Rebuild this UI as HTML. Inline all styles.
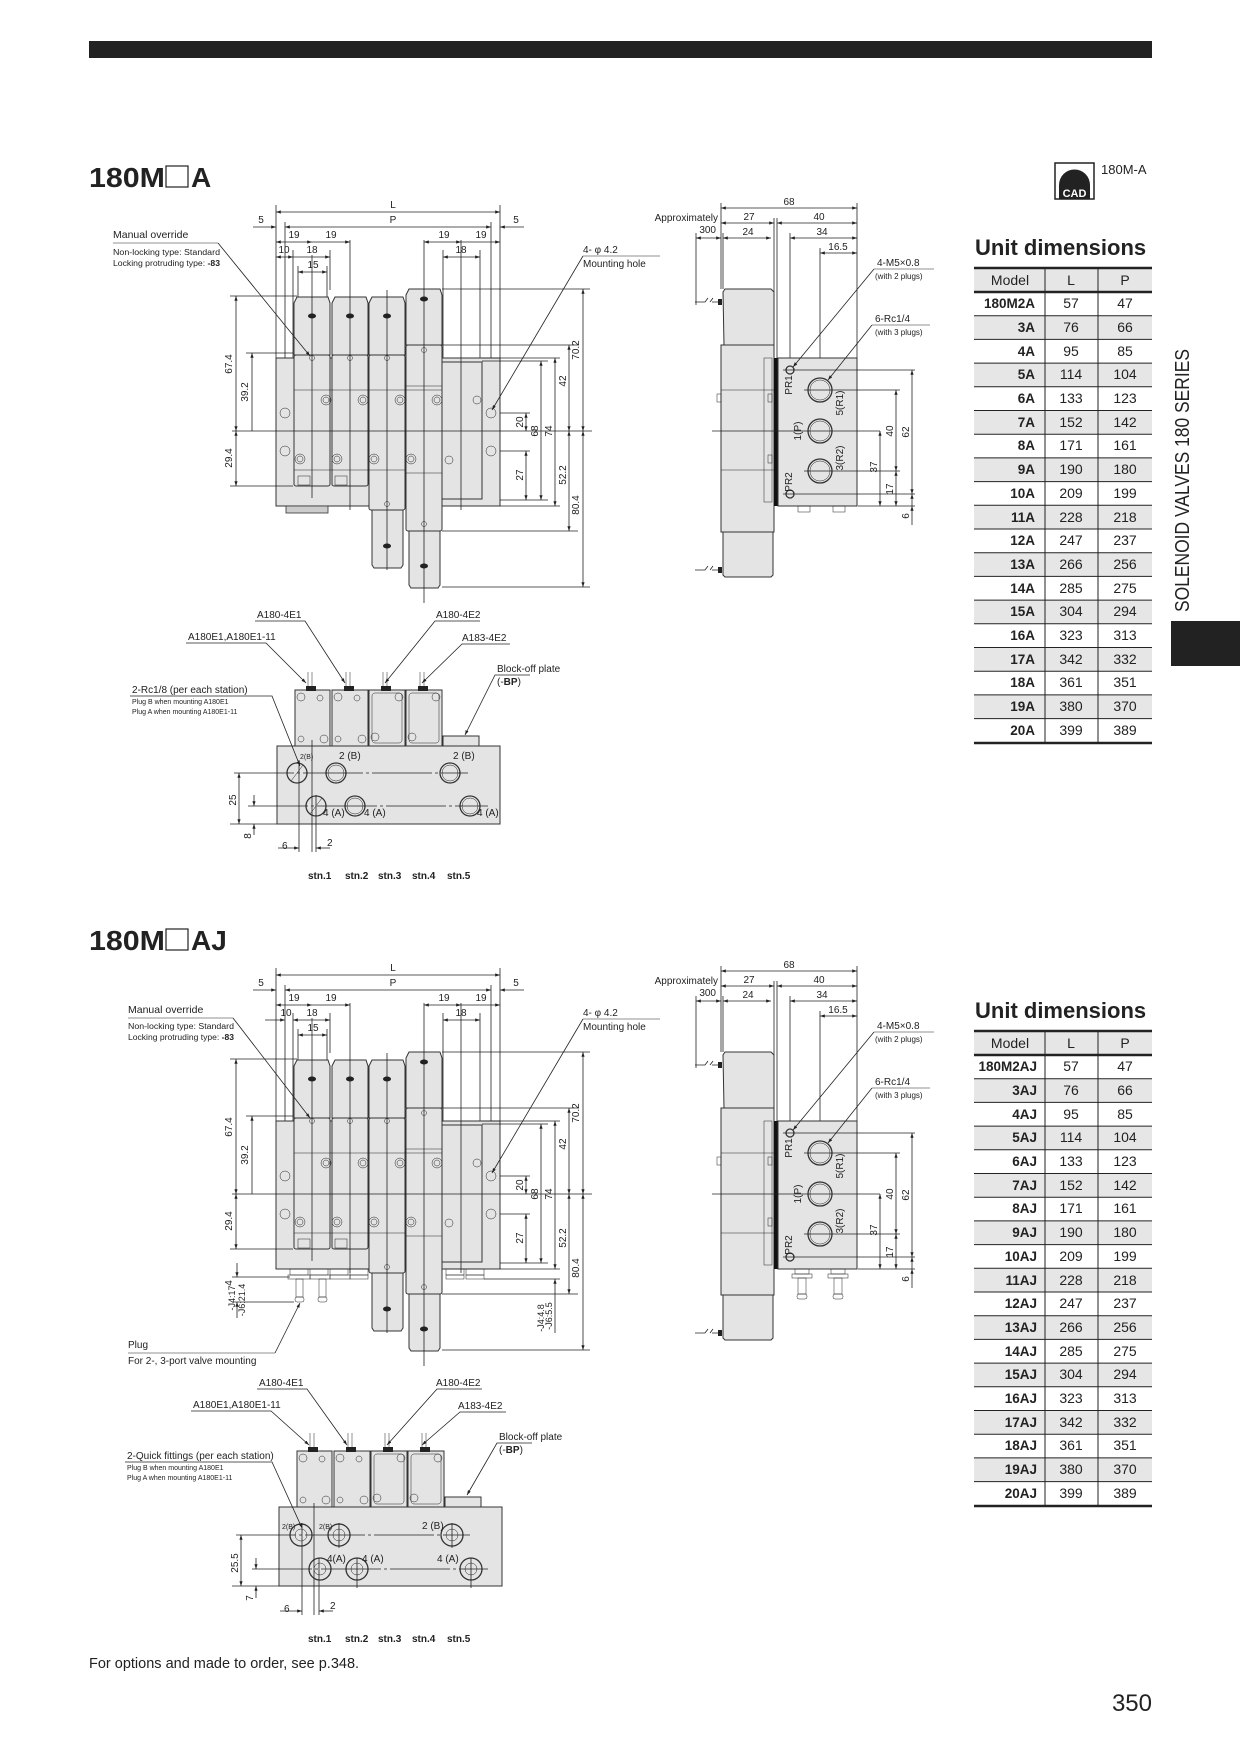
<!DOCTYPE html>
<html><head><meta charset="utf-8"><style>
html,body{margin:0;padding:0;background:#fff}
svg{display:block}
text{font-family:"Liberation Sans",sans-serif;fill:#222}
.d{font-size:10px}
.s{font-size:8px}
.b{font-weight:bold}
.ln{stroke:#222;stroke-width:0.8;fill:none}
.th{stroke:#222;stroke-width:0.5;fill:none}
.bd{fill:#e4e4e4;stroke:#333;stroke-width:1}
.pt{fill:none;stroke:#333;stroke-width:1.3}
</style></head><body>
<svg width="1240" height="1752" viewBox="0 0 1240 1752" xmlns="http://www.w3.org/2000/svg">
<defs>
<marker id="a" viewBox="0 0 6 6" refX="6" refY="3" markerWidth="6" markerHeight="6" orient="auto-start-reverse"><path d="M0,1 L6,3 L0,5z" fill="#222"/></marker>
</defs>
<rect x="89" y="41" width="1063" height="17" fill="#222"/>

<rect x="1055" y="163" width="39" height="36" fill="#fff" stroke="#222" stroke-width="1.5"/>
<path d="M1059,199 L1059,185 A15,15 0 0 1 1090,185 L1090,199z" fill="#222"/>
<rect x="1059" y="186" width="31" height="13" fill="#222"/>
<text x="1074.5" y="197" font-size="11" font-weight="bold" text-anchor="middle" style="fill:#fff">CAD</text>
<text x="1101" y="174" font-size="13">180M-A</text>

<text transform="translate(1189,612) rotate(-90)" font-size="20" textLength="263" lengthAdjust="spacingAndGlyphs" style="font-family:'Liberation Sans Narrow','Liberation Sans',sans-serif">SOLENOID VALVES 180 SERIES</text>
<rect x="1171" y="621" width="69" height="45" fill="#222"/>

<!-- ========== SECTION 1 ========== -->
<g id="s1">
<text x="89" y="187" font-size="28" class="b" textLength="76" lengthAdjust="spacingAndGlyphs">180M</text>
<rect x="166" y="166" width="22" height="21" fill="none" stroke="#222" stroke-width="1.2"/>
<text x="191" y="187" font-size="28" class="b">A</text>

<g class="ln">
<line x1="276" y1="205" x2="276" y2="358"/><line x1="500" y1="205" x2="500" y2="358"/>
<line x1="285" y1="222" x2="285" y2="440"/><line x1="491" y1="222" x2="491" y2="460"/>
<line x1="276" y1="212" x2="500" y2="212" marker-start="url(#a)" marker-end="url(#a)"/>
<line x1="285" y1="227" x2="491" y2="227" marker-start="url(#a)" marker-end="url(#a)"/>
<line x1="253" y1="227" x2="276" y2="227" marker-end="url(#a)"/><line x1="524" y1="227" x2="500" y2="227" marker-end="url(#a)"/>
<line x1="276" y1="242" x2="312" y2="242" marker-start="url(#a)" marker-end="url(#a)"/>
<line x1="312" y1="242" x2="350" y2="242" marker-end="url(#a)"/>
<line x1="424" y1="242" x2="461" y2="242" marker-start="url(#a)" marker-end="url(#a)"/>
<line x1="461" y1="242" x2="500" y2="242" marker-end="url(#a)"/>
<line x1="276" y1="257" x2="293" y2="257" marker-start="url(#a)" marker-end="url(#a)"/>
<line x1="293" y1="257" x2="330" y2="257" marker-end="url(#a)"/>
<line x1="443" y1="257" x2="480" y2="257" marker-start="url(#a)" marker-end="url(#a)"/>
<line x1="298" y1="272" x2="327" y2="272" marker-start="url(#a)" marker-end="url(#a)"/>
<line x1="293" y1="250" x2="293" y2="358"/><line x1="330" y1="250" x2="330" y2="290"/>
<line x1="298" y1="266" x2="298" y2="300"/><line x1="327" y1="266" x2="327" y2="300"/>
<line x1="443" y1="250" x2="443" y2="358"/><line x1="480" y1="250" x2="480" y2="358"/>
</g>
<g class="d" text-anchor="middle">
<text x="393" y="208">L</text><text x="393" y="223">P</text>
<text x="261" y="223">5</text><text x="516" y="223">5</text>
<text x="294" y="238">19</text><text x="331" y="238">19</text>
<text x="444" y="238">19</text><text x="481" y="238">19</text>
<text x="284" y="253">10</text><text x="312" y="253">18</text><text x="461" y="253">18</text>
<text x="313" y="268">15</text>
</g>
<rect class="bd" x="276" y="358" width="224" height="148"/>
<rect x="286" y="506" width="42" height="7" fill="#ccc" stroke="#333" stroke-width="0.8"/>
<rect class="bd" x="442" y="362" width="40" height="137"/>
<path class="bd" d="M297,297 h31 l2,6 v52 h-36 v-52z"/>
<rect class="bd" x="294" y="355" width="36" height="131" rx="2"/>
<path class="bd" d="M335,297 h31 l2,6 v52 h-36 v-52z"/>
<rect class="bd" x="332" y="355" width="36" height="131" rx="2"/>
<path class="bd" d="M372,297 h31 l2,6 v52 h-36 v-52z"/>
<rect class="bd" x="369" y="355" width="36" height="155" rx="2"/>
<path class="bd" d="M372,510 h31 v55 l-2,3 h-27 l-2,-3z"/>
<path class="bd" d="M409,289 h31 l2,6 v50 h-36 v-50z"/>
<rect class="bd" x="406" y="345" width="36" height="186" rx="2"/>
<path class="bd" d="M409,531 h31 v54 l-2,3 h-27 l-2,-3z"/>
<g class="th"><line x1="294" y1="390" x2="442" y2="390"/><line x1="294" y1="470" x2="405" y2="470"/><line x1="406" y1="386" x2="442" y2="386"/><line x1="406" y1="473" x2="442" y2="473"/>
<rect x="298" y="476" width="12" height="9"/><rect x="335" y="476" width="12" height="9"/></g>
<g class="ln">
<line x1="312" y1="255" x2="312" y2="498"/><line x1="350" y1="240" x2="350" y2="510"/>
<line x1="387" y1="290" x2="387" y2="570"/><line x1="424" y1="240" x2="424" y2="603"/><line x1="461" y1="240" x2="461" y2="510"/>
<line x1="232" y1="431" x2="592" y2="431"/>
</g>
<g fill="#222"><ellipse cx="312" cy="316" rx="4" ry="2.5"/><ellipse cx="350" cy="316" rx="4" ry="2.5"/><ellipse cx="387" cy="316" rx="4" ry="2.5"/><ellipse cx="424" cy="299" rx="4" ry="2.5"/><ellipse cx="387" cy="546" rx="4" ry="2.5"/><ellipse cx="424" cy="566" rx="4" ry="2.5"/></g>
<g class="th" fill="#fff">
<circle cx="285" cy="413" r="5"/><circle cx="285" cy="451" r="5"/><circle cx="491" cy="413" r="5"/><circle cx="491" cy="451" r="5"/>
<circle cx="326" cy="400" r="5"/><circle cx="326" cy="400" r="3"/><circle cx="363" cy="400" r="5"/><circle cx="363" cy="400" r="3"/>
<circle cx="400" cy="400" r="5"/><circle cx="400" cy="400" r="3"/><circle cx="437" cy="400" r="5"/><circle cx="437" cy="400" r="3"/>
<circle cx="477" cy="400" r="4"/>
<circle cx="300" cy="459" r="5"/><circle cx="300" cy="459" r="3"/><circle cx="337" cy="459" r="5"/><circle cx="337" cy="459" r="3"/>
<circle cx="374" cy="459" r="5"/><circle cx="374" cy="459" r="3"/><circle cx="411" cy="459" r="5"/><circle cx="411" cy="459" r="3"/>
<circle cx="449" cy="460" r="4"/>
<circle cx="312" cy="358" r="2.5"/><circle cx="350" cy="358" r="2.5"/><circle cx="387" cy="358" r="2.5"/><circle cx="424" cy="350" r="2.5"/><circle cx="387" cy="504" r="2.5"/><circle cx="424" cy="524" r="2.5"/>
</g>
<g class="ln">
<line x1="230" y1="296" x2="297" y2="296"/><line x1="246" y1="353" x2="293" y2="353"/><line x1="230" y1="486" x2="293" y2="486"/>
<line x1="236" y1="296" x2="236" y2="431" marker-start="url(#a)" marker-end="url(#a)"/>
<line x1="252" y1="353" x2="252" y2="431" marker-start="url(#a)"/>
<line x1="236" y1="431" x2="236" y2="486" marker-start="url(#a)" marker-end="url(#a)"/>
<line x1="442" y1="289" x2="590" y2="289"/><line x1="442" y1="345" x2="578" y2="345"/><line x1="482" y1="358" x2="560" y2="358"/>
<line x1="482" y1="361" x2="548" y2="361"/><line x1="500" y1="413" x2="530" y2="413"/><line x1="500" y1="451" x2="530" y2="451"/>
<line x1="500" y1="500" x2="548" y2="500"/><line x1="500" y1="506" x2="560" y2="506"/><line x1="442" y1="531" x2="578" y2="531"/><line x1="442" y1="587" x2="590" y2="587"/>
<line x1="583" y1="289" x2="583" y2="431" marker-start="url(#a)" marker-end="url(#a)"/>
<line x1="583" y1="431" x2="583" y2="587" marker-start="url(#a)" marker-end="url(#a)"/>
<line x1="569" y1="345" x2="569" y2="431" marker-start="url(#a)" marker-end="url(#a)"/>
<line x1="569" y1="431" x2="569" y2="531" marker-start="url(#a)" marker-end="url(#a)"/>
<line x1="555" y1="358" x2="555" y2="506" marker-start="url(#a)" marker-end="url(#a)"/>
<line x1="541" y1="361" x2="541" y2="500" marker-start="url(#a)" marker-end="url(#a)"/>
<line x1="526" y1="413" x2="526" y2="431" marker-start="url(#a)" marker-end="url(#a)"/>
<line x1="526" y1="451" x2="526" y2="500" marker-start="url(#a)" marker-end="url(#a)"/>
</g>
<g class="d" text-anchor="middle">
<text transform="translate(232,364) rotate(-90)">67.4</text>
<text transform="translate(248,392) rotate(-90)">39.2</text>
<text transform="translate(232,458) rotate(-90)">29.4</text>
<text transform="translate(579,350) rotate(-90)">70.2</text>
<text transform="translate(579,505) rotate(-90)">80.4</text>
<text transform="translate(566,381) rotate(-90)">42</text>
<text transform="translate(566,475) rotate(-90)">52.2</text>
<text transform="translate(552,431) rotate(-90)">74</text>
<text transform="translate(538,431) rotate(-90)">68</text>
<text transform="translate(523,422) rotate(-90)">20</text>
<text transform="translate(523,475) rotate(-90)">27</text>
</g>
<text x="113" y="238" font-size="10.5">Manual override</text>
<line class="th" x1="113" y1="243" x2="218" y2="243"/>
<line class="ln" x1="218" y1="243" x2="310" y2="356" marker-end="url(#a)"/>
<text x="113" y="255" class="s" textLength="107" lengthAdjust="spacingAndGlyphs">Non-locking type: Standard</text>
<text x="113" y="266" class="s" textLength="107" lengthAdjust="spacingAndGlyphs">Locking protruding type: <tspan class="b">-83</tspan></text>
<text x="583" y="253" class="d">4- φ 4.2</text>
<line class="th" x1="583" y1="256" x2="660" y2="256"/>
<text x="583" y="267" class="d">Mounting hole</text>
<line class="ln" x1="583" y1="256" x2="492" y2="410" marker-end="url(#a)"/>

<g class="ln">
<line x1="721" y1="203" x2="721" y2="289"/><line x1="857" y1="203" x2="857" y2="358"/>
<line x1="774" y1="218" x2="774" y2="358"/><line x1="777" y1="218" x2="777" y2="358"/>
<line x1="790" y1="233" x2="790" y2="370"/><line x1="820" y1="248" x2="820" y2="490"/>
<line x1="696" y1="233" x2="696" y2="305"/><line x1="723" y1="233" x2="723" y2="289"/>
<line x1="721" y1="208" x2="857" y2="208" marker-start="url(#a)" marker-end="url(#a)"/>
<line x1="721" y1="223" x2="774" y2="223" marker-start="url(#a)" marker-end="url(#a)"/>
<line x1="777" y1="223" x2="857" y2="223" marker-start="url(#a)" marker-end="url(#a)"/>
<line x1="696" y1="238" x2="721" y2="238" marker-start="url(#a)" marker-end="url(#a)"/>
<line x1="723" y1="238" x2="771" y2="238" marker-start="url(#a)" marker-end="url(#a)"/>
<line x1="790" y1="238" x2="857" y2="238" marker-start="url(#a)" marker-end="url(#a)"/>
<line x1="820" y1="253" x2="857" y2="253" marker-start="url(#a)" marker-end="url(#a)"/>
</g>
<g class="d" text-anchor="middle">
<text x="789" y="205">68</text><text x="749" y="220">27</text><text x="819" y="220">40</text>
<text x="748" y="235">24</text><text x="822" y="235">34</text><text x="838" y="250">16.5</text>
</g>
<text x="718" y="221" class="d" text-anchor="end">Approximately</text>
<text x="716" y="233" class="d" text-anchor="end">300</text>
<path class="bd" d="M723,292 l2,-3 h46 l3,3 v53 h-50z"/>
<rect class="bd" x="721" y="345" width="53" height="187"/>
<path class="bd" d="M723,532 h50 v43 l-2,2 h-46 l-2,-2z"/>
<g class="th"><line x1="721" y1="390" x2="774" y2="390"/><line x1="721" y1="470" x2="774" y2="470"/><rect x="717" y="394" width="4" height="8"/><rect x="768" y="394" width="4" height="8"/><rect x="768" y="455" width="4" height="8"/><rect x="764" y="358" width="8" height="144"/></g>
<path class="ln" d="M695,302 h10 l3,-4 M710,302 l3,-4 M712,302 h8"/><rect x="718" y="299" width="4" height="6" fill="#222"/>
<path class="ln" d="M695,570 h10 l3,-4 M710,570 l3,-4 M712,570 h8"/><rect x="718" y="567" width="4" height="6" fill="#222"/>
<rect x="774" y="358" width="4" height="148" fill="#111"/>
<rect class="bd" x="778" y="358" width="79" height="148"/>
<g class="th"><rect x="798" y="506" width="12" height="6"/><rect x="833" y="506" width="12" height="6"/></g>
<circle class="pt" cx="820" cy="390" r="12"/><circle class="pt" cx="820" cy="431" r="12"/><circle class="pt" cx="820" cy="471" r="12"/>
<circle class="th" cx="820" cy="390" r="10"/><circle class="th" cx="820" cy="431" r="10"/><circle class="th" cx="820" cy="471" r="10"/>
<circle class="pt" cx="790" cy="370" r="4"/><circle class="pt" cx="790" cy="494" r="4"/>
<g class="ln">
<line x1="712" y1="431" x2="880" y2="431"/><line x1="783" y1="370" x2="915" y2="370"/><line x1="804" y1="390" x2="900" y2="390"/>
<line x1="804" y1="471" x2="900" y2="471"/><line x1="783" y1="494" x2="915" y2="494"/><line x1="858" y1="506" x2="915" y2="506"/>
<line x1="880" y1="431" x2="880" y2="506" marker-start="url(#a)" marker-end="url(#a)"/>
<line x1="896" y1="390" x2="896" y2="471" marker-start="url(#a)" marker-end="url(#a)"/>
<line x1="896" y1="471" x2="896" y2="506" marker-start="url(#a)" marker-end="url(#a)"/>
<line x1="912" y1="370" x2="912" y2="494" marker-start="url(#a)" marker-end="url(#a)"/>
<line x1="912" y1="494" x2="912" y2="506" marker-start="url(#a)"/><line x1="912" y1="506" x2="912" y2="525" marker-start="url(#a)"/>
</g>
<g class="d" text-anchor="middle">
<text transform="translate(877,467) rotate(-90)">37</text>
<text transform="translate(893,431) rotate(-90)">40</text>
<text transform="translate(893,489) rotate(-90)">17</text>
<text transform="translate(909,432) rotate(-90)">62</text>
<text transform="translate(909,516) rotate(-90)">6</text>
<text transform="translate(792,385) rotate(-90)">PR1</text>
<text transform="translate(792,482) rotate(-90)">PR2</text>
<text transform="translate(801,431) rotate(-90)">1(P)</text>
<text transform="translate(843,403) rotate(-90)">5(R1)</text>
<text transform="translate(843,458) rotate(-90)">3(R2)</text>
</g>
<text x="877" y="266" class="d">4-M5×0.8</text>
<line class="th" x1="874" y1="269" x2="934" y2="269"/>
<text x="875" y="279" class="s">(with 2 plugs)</text>
<line class="ln" x1="874" y1="269" x2="793" y2="367" marker-end="url(#a)"/>
<text x="875" y="322" class="d">6-Rc1/4</text>
<line class="th" x1="872" y1="325" x2="930" y2="325"/>
<text x="875" y="335" class="s">(with 3 plugs)</text>
<line class="ln" x1="872" y1="325" x2="828" y2="380" marker-end="url(#a)"/>

<rect class="bd" x="277" y="746" width="223" height="78"/>
<rect class="bd" x="295" y="690" width="35" height="56"/>
<rect class="bd" x="332" y="690" width="36" height="56"/>
<rect class="bd" x="369" y="690" width="36" height="56"/>
<rect class="bd" x="406" y="690" width="36" height="56"/>
<rect class="th" x="372" y="693" width="30" height="50" rx="3"/><rect class="th" x="409" y="693" width="30" height="50" rx="3"/>
<rect class="bd" x="443" y="736" width="36" height="10"/>
<g fill="#222"><rect x="306" y="686" width="10" height="5"/><rect x="344" y="686" width="10" height="5"/><rect x="381" y="686" width="10" height="5"/><rect x="418" y="686" width="10" height="5"/></g>
<g class="th"><path d="M308,686 v-14 M312,686 v-14 M346,686 v-14 M350,686 v-14 M383,686 v-14 M387,686 v-14 M420,686 v-14 M424,686 v-14"/>
<circle cx="301" cy="697" r="4"/><circle cx="324" cy="739" r="4"/><circle cx="301" cy="739" r="3"/><circle cx="320" cy="698" r="3"/>
<circle cx="338" cy="697" r="4"/><circle cx="362" cy="739" r="4"/><circle cx="338" cy="739" r="3"/><circle cx="357" cy="698" r="3"/>
<circle cx="399" cy="697" r="4"/><circle cx="375" cy="737" r="4"/><circle cx="436" cy="697" r="4"/><circle cx="412" cy="737" r="4"/></g>
<g class="pt"><circle cx="297" cy="773" r="10"/><circle cx="336" cy="773" r="10"/><circle cx="450" cy="773" r="10"/>
<circle cx="316" cy="806" r="10"/><circle cx="355" cy="806" r="10"/><circle cx="470" cy="806" r="10"/></g>
<g class="th"><circle cx="336" cy="773" r="8"/><circle cx="450" cy="773" r="8"/><circle cx="355" cy="806" r="8"/><circle cx="470" cy="806" r="8"/>
<line x1="291" y1="781" x2="303" y2="765"/><line x1="310" y1="814" x2="322" y2="798"/></g>
<g class="ln">
<line x1="234" y1="773" x2="468" y2="773" stroke-dasharray="60,3,3,3"/>
<line x1="248" y1="806" x2="488" y2="806" stroke-dasharray="60,3,3,3"/>
<line x1="230" y1="824" x2="277" y2="824"/>
<line x1="239" y1="773" x2="239" y2="824" marker-start="url(#a)" marker-end="url(#a)"/>
<line x1="254" y1="795" x2="254" y2="806" marker-end="url(#a)"/><line x1="254" y1="835" x2="254" y2="824" marker-end="url(#a)"/>
<line x1="299" y1="760" x2="299" y2="852"/><line x1="312" y1="740" x2="312" y2="852"/><line x1="316" y1="795" x2="316" y2="852"/>
<line x1="278" y1="848" x2="299" y2="848" marker-end="url(#a)"/><line x1="330" y1="848" x2="316" y2="848" marker-end="url(#a)"/>
</g>
<g class="d">
<text x="282" y="849">6</text><text x="327" y="846">2</text>
<text transform="translate(236,800) rotate(-90)" text-anchor="middle">25</text>
<text transform="translate(251,836) rotate(-90)" text-anchor="middle">8</text>
<text x="300" y="759" font-size="7">2(B)</text><text x="339" y="759">2 (B)</text><text x="453" y="759">2 (B)</text>
<text x="323" y="816">4 (A)</text><text x="364" y="816">4 (A)</text><text x="477" y="816">4 (A)</text>
</g>
<g font-size="10" class="b"><text x="308" y="879">stn.1</text><text x="345" y="879">stn.2</text><text x="378" y="879">stn.3</text><text x="412" y="879">stn.4</text><text x="447" y="879">stn.5</text></g>
<g class="d">
<text x="257" y="618">A180-4E1</text><text x="188" y="640">A180E1,A180E1-11</text>
<text x="436" y="618">A180-4E2</text><text x="462" y="641">A183-4E2</text>
<text x="497" y="672">Block-off plate</text><text x="497" y="685">(-<tspan class="b">BP</tspan>)</text>
<text x="132" y="693">2-Rc1/8 (per each station)</text>
</g>
<text x="132" y="704" font-size="7">Plug B when mounting A180E1</text>
<text x="132" y="714" font-size="7">Plug A when mounting A180E1-11</text>
<g class="ln">
<path d="M255,621 h50 l40,62" marker-end="url(#a)"/><path d="M186,643 h80 l40,40" marker-end="url(#a)"/>
<path d="M480,621 h-45 l-50,62" marker-end="url(#a)"/><path d="M510,644 h-48 l-40,39" marker-end="url(#a)"/>
<path d="M530,675 h-35 l-30,60" marker-end="url(#a)"/><path d="M130,696 h142 l28,70" marker-end="url(#a)"/>
</g>

<text x="975" y="255" font-size="22" class="b">Unit dimensions</text>
<rect x="974" y="268" width="178" height="24" fill="#e6e6e6"/>
<g fill="#e6e6e6">
<rect x="974" y="315.7" width="178" height="23.7"/><rect x="974" y="363.1" width="178" height="23.7"/><rect x="974" y="410.5" width="178" height="23.7"/><rect x="974" y="457.9" width="178" height="23.7"/><rect x="974" y="505.3" width="178" height="23.7"/><rect x="974" y="552.7" width="178" height="23.7"/><rect x="974" y="600.1" width="178" height="23.7"/><rect x="974" y="647.5" width="178" height="23.7"/><rect x="974" y="694.9" width="178" height="23.7"/>
</g>
<g stroke="#222" stroke-width="1">
<line x1="974" y1="315.7" x2="1152" y2="315.7"/><line x1="974" y1="339.4" x2="1152" y2="339.4"/><line x1="974" y1="363.1" x2="1152" y2="363.1"/><line x1="974" y1="386.8" x2="1152" y2="386.8"/><line x1="974" y1="410.5" x2="1152" y2="410.5"/><line x1="974" y1="434.2" x2="1152" y2="434.2"/><line x1="974" y1="457.9" x2="1152" y2="457.9"/><line x1="974" y1="481.6" x2="1152" y2="481.6"/><line x1="974" y1="505.3" x2="1152" y2="505.3"/><line x1="974" y1="529" x2="1152" y2="529"/><line x1="974" y1="552.7" x2="1152" y2="552.7"/><line x1="974" y1="576.4" x2="1152" y2="576.4"/><line x1="974" y1="600.1" x2="1152" y2="600.1"/><line x1="974" y1="623.8" x2="1152" y2="623.8"/><line x1="974" y1="647.5" x2="1152" y2="647.5"/><line x1="974" y1="671.2" x2="1152" y2="671.2"/><line x1="974" y1="694.9" x2="1152" y2="694.9"/><line x1="974" y1="718.6" x2="1152" y2="718.6"/>
<line x1="1045" y1="268" x2="1045" y2="743"/><line x1="1098" y1="268" x2="1098" y2="743"/>
</g>
<g stroke="#222" stroke-width="2.5"><line x1="974" y1="268" x2="1152" y2="268"/><line x1="974" y1="292" x2="1152" y2="292"/><line x1="974" y1="743" x2="1152" y2="743"/></g>
<g font-size="14" text-anchor="middle"><text x="1010" y="285">Model</text><text x="1071" y="285">L</text><text x="1125" y="285">P</text></g>
<g font-size="13.5" class="b" text-anchor="end">
<text x="1035" y="308">180M2A</text><text x="1035" y="332">3A</text><text x="1035" y="356">4A</text><text x="1035" y="379">5A</text><text x="1035" y="403">6A</text><text x="1035" y="427">7A</text><text x="1035" y="450">8A</text><text x="1035" y="474">9A</text><text x="1035" y="498">10A</text><text x="1035" y="522">11A</text><text x="1035" y="545">12A</text><text x="1035" y="569">13A</text><text x="1035" y="593">14A</text><text x="1035" y="616">15A</text><text x="1035" y="640">16A</text><text x="1035" y="664">17A</text><text x="1035" y="687">18A</text><text x="1035" y="711">19A</text><text x="1035" y="735">20A</text>
</g>
<g font-size="14" text-anchor="middle">
<text x="1071" y="308">57</text><text x="1071" y="332">76</text><text x="1071" y="356">95</text><text x="1071" y="379">114</text><text x="1071" y="403">133</text><text x="1071" y="427">152</text><text x="1071" y="450">171</text><text x="1071" y="474">190</text><text x="1071" y="498">209</text><text x="1071" y="522">228</text><text x="1071" y="545">247</text><text x="1071" y="569">266</text><text x="1071" y="593">285</text><text x="1071" y="616">304</text><text x="1071" y="640">323</text><text x="1071" y="664">342</text><text x="1071" y="687">361</text><text x="1071" y="711">380</text><text x="1071" y="735">399</text>
<text x="1125" y="308">47</text><text x="1125" y="332">66</text><text x="1125" y="356">85</text><text x="1125" y="379">104</text><text x="1125" y="403">123</text><text x="1125" y="427">142</text><text x="1125" y="450">161</text><text x="1125" y="474">180</text><text x="1125" y="498">199</text><text x="1125" y="522">218</text><text x="1125" y="545">237</text><text x="1125" y="569">256</text><text x="1125" y="593">275</text><text x="1125" y="616">294</text><text x="1125" y="640">313</text><text x="1125" y="664">332</text><text x="1125" y="687">351</text><text x="1125" y="711">370</text><text x="1125" y="735">389</text>
</g>
</g>

<!-- ========== SECTION 2 ========== -->
<g transform="translate(0,763)">
<text x="89" y="187" font-size="28" class="b" textLength="76" lengthAdjust="spacingAndGlyphs">180M</text>
<rect x="166" y="166" width="22" height="21" fill="none" stroke="#222" stroke-width="1.2"/>
<text x="191" y="187" font-size="28" class="b">AJ</text>

<g class="ln">
<line x1="276" y1="205" x2="276" y2="358"/><line x1="500" y1="205" x2="500" y2="358"/>
<line x1="285" y1="222" x2="285" y2="440"/><line x1="491" y1="222" x2="491" y2="460"/>
<line x1="276" y1="212" x2="500" y2="212" marker-start="url(#a)" marker-end="url(#a)"/>
<line x1="285" y1="227" x2="491" y2="227" marker-start="url(#a)" marker-end="url(#a)"/>
<line x1="253" y1="227" x2="276" y2="227" marker-end="url(#a)"/><line x1="524" y1="227" x2="500" y2="227" marker-end="url(#a)"/>
<line x1="276" y1="242" x2="312" y2="242" marker-start="url(#a)" marker-end="url(#a)"/>
<line x1="312" y1="242" x2="350" y2="242" marker-end="url(#a)"/>
<line x1="424" y1="242" x2="461" y2="242" marker-start="url(#a)" marker-end="url(#a)"/>
<line x1="461" y1="242" x2="500" y2="242" marker-end="url(#a)"/>
<line x1="265" y1="257" x2="285" y2="257" marker-end="url(#a)"/>
<line x1="293" y1="257" x2="330" y2="257" marker-start="url(#a)" marker-end="url(#a)"/>
<line x1="443" y1="257" x2="480" y2="257" marker-start="url(#a)" marker-end="url(#a)"/>
<line x1="298" y1="272" x2="327" y2="272" marker-start="url(#a)" marker-end="url(#a)"/>
<line x1="293" y1="250" x2="293" y2="358"/><line x1="330" y1="250" x2="330" y2="290"/>
<line x1="298" y1="266" x2="298" y2="300"/><line x1="327" y1="266" x2="327" y2="300"/>
<line x1="443" y1="250" x2="443" y2="358"/><line x1="480" y1="250" x2="480" y2="358"/>
</g>
<g class="d" text-anchor="middle">
<text x="393" y="208">L</text><text x="393" y="223">P</text>
<text x="261" y="223">5</text><text x="516" y="223">5</text>
<text x="294" y="238">19</text><text x="331" y="238">19</text>
<text x="444" y="238">19</text><text x="481" y="238">19</text>
<text x="286" y="253">10</text><text x="312" y="253">18</text><text x="461" y="253">18</text>
<text x="313" y="268">15</text>
</g>
<rect class="bd" x="276" y="358" width="224" height="148"/>
<rect class="bd" x="442" y="362" width="40" height="137"/>
<g class="th" fill="#ddd"><rect x="290" y="506" width="18" height="6"/><rect x="310" y="506" width="18" height="6"/><rect x="330" y="506" width="18" height="6"/><rect x="350" y="506" width="18" height="6"/><rect x="446" y="506" width="18" height="6"/><rect x="466" y="506" width="18" height="6"/>
<rect x="288" y="512" width="22" height="4"/><rect x="310" y="512" width="20" height="4"/><rect x="330" y="512" width="20" height="4"/><rect x="350" y="512" width="18" height="4"/><rect x="446" y="512" width="18" height="4"/><rect x="466" y="512" width="18" height="4"/>
<rect x="296" y="516" width="7" height="18"/><rect x="319" y="516" width="7" height="18"/><rect x="295" y="534" width="9" height="5" rx="2"/><rect x="318" y="534" width="9" height="5" rx="2"/></g>
<path class="bd" d="M297,297 h31 l2,6 v52 h-36 v-52z"/>
<rect class="bd" x="294" y="355" width="36" height="131" rx="2"/>
<path class="bd" d="M335,297 h31 l2,6 v52 h-36 v-52z"/>
<rect class="bd" x="332" y="355" width="36" height="131" rx="2"/>
<path class="bd" d="M372,297 h31 l2,6 v52 h-36 v-52z"/>
<rect class="bd" x="369" y="355" width="36" height="155" rx="2"/>
<path class="bd" d="M372,510 h31 v55 l-2,3 h-27 l-2,-3z"/>
<path class="bd" d="M409,289 h31 l2,6 v50 h-36 v-50z"/>
<rect class="bd" x="406" y="345" width="36" height="186" rx="2"/>
<path class="bd" d="M409,531 h31 v54 l-2,3 h-27 l-2,-3z"/>
<g class="th"><line x1="294" y1="390" x2="442" y2="390"/><line x1="294" y1="470" x2="405" y2="470"/><line x1="406" y1="386" x2="442" y2="386"/><line x1="406" y1="473" x2="442" y2="473"/>
<rect x="298" y="476" width="12" height="9"/><rect x="335" y="476" width="12" height="9"/></g>
<g class="ln">
<line x1="312" y1="255" x2="312" y2="498"/><line x1="350" y1="240" x2="350" y2="510"/>
<line x1="387" y1="290" x2="387" y2="570"/><line x1="424" y1="240" x2="424" y2="603"/><line x1="461" y1="240" x2="461" y2="510"/>
<line x1="232" y1="431" x2="592" y2="431"/>
</g>
<g fill="#222"><ellipse cx="312" cy="316" rx="4" ry="2.5"/><ellipse cx="350" cy="316" rx="4" ry="2.5"/><ellipse cx="387" cy="316" rx="4" ry="2.5"/><ellipse cx="424" cy="299" rx="4" ry="2.5"/><ellipse cx="387" cy="546" rx="4" ry="2.5"/><ellipse cx="424" cy="566" rx="4" ry="2.5"/></g>
<g class="th" fill="#fff">
<circle cx="285" cy="413" r="5"/><circle cx="285" cy="451" r="5"/><circle cx="491" cy="413" r="5"/><circle cx="491" cy="451" r="5"/>
<circle cx="326" cy="400" r="5"/><circle cx="326" cy="400" r="3"/><circle cx="363" cy="400" r="5"/><circle cx="363" cy="400" r="3"/>
<circle cx="400" cy="400" r="5"/><circle cx="400" cy="400" r="3"/><circle cx="437" cy="400" r="5"/><circle cx="437" cy="400" r="3"/>
<circle cx="477" cy="400" r="4"/>
<circle cx="300" cy="459" r="5"/><circle cx="300" cy="459" r="3"/><circle cx="337" cy="459" r="5"/><circle cx="337" cy="459" r="3"/>
<circle cx="374" cy="459" r="5"/><circle cx="374" cy="459" r="3"/><circle cx="411" cy="459" r="5"/><circle cx="411" cy="459" r="3"/>
<circle cx="449" cy="460" r="4"/>
<circle cx="312" cy="358" r="2.5"/><circle cx="350" cy="358" r="2.5"/><circle cx="387" cy="358" r="2.5"/><circle cx="424" cy="350" r="2.5"/><circle cx="387" cy="504" r="2.5"/><circle cx="424" cy="524" r="2.5"/>
</g>
<g class="ln">
<line x1="230" y1="296" x2="297" y2="296"/><line x1="246" y1="353" x2="293" y2="353"/><line x1="230" y1="486" x2="293" y2="486"/>
<line x1="236" y1="296" x2="236" y2="431" marker-start="url(#a)" marker-end="url(#a)"/>
<line x1="252" y1="353" x2="252" y2="431" marker-start="url(#a)"/>
<line x1="236" y1="431" x2="236" y2="486" marker-start="url(#a)" marker-end="url(#a)"/>
<line x1="232" y1="514" x2="290" y2="514"/><line x1="232" y1="539" x2="294" y2="539"/>
<line x1="237" y1="500" x2="237" y2="514" marker-end="url(#a)"/><line x1="237" y1="539" x2="237" y2="555" marker-start="url(#a)"/>
<line x1="442" y1="289" x2="590" y2="289"/><line x1="442" y1="345" x2="578" y2="345"/><line x1="482" y1="358" x2="560" y2="358"/>
<line x1="482" y1="361" x2="548" y2="361"/><line x1="500" y1="413" x2="530" y2="413"/><line x1="500" y1="451" x2="530" y2="451"/>
<line x1="500" y1="500" x2="548" y2="500"/><line x1="500" y1="506" x2="560" y2="506"/><line x1="484" y1="516" x2="560" y2="516"/><line x1="442" y1="531" x2="578" y2="531"/><line x1="442" y1="587" x2="590" y2="587"/>
<line x1="583" y1="289" x2="583" y2="431" marker-start="url(#a)" marker-end="url(#a)"/>
<line x1="583" y1="431" x2="583" y2="587" marker-start="url(#a)" marker-end="url(#a)"/>
<line x1="569" y1="345" x2="569" y2="431" marker-start="url(#a)" marker-end="url(#a)"/>
<line x1="569" y1="431" x2="569" y2="531" marker-start="url(#a)" marker-end="url(#a)"/>
<line x1="555" y1="358" x2="555" y2="506" marker-start="url(#a)" marker-end="url(#a)"/>
<line x1="555" y1="516" x2="555" y2="570" marker-start="url(#a)"/>
<line x1="541" y1="361" x2="541" y2="500" marker-start="url(#a)" marker-end="url(#a)"/>
<line x1="526" y1="413" x2="526" y2="431" marker-start="url(#a)" marker-end="url(#a)"/>
<line x1="526" y1="451" x2="526" y2="500" marker-start="url(#a)" marker-end="url(#a)"/>
</g>
<g class="d" text-anchor="middle">
<text transform="translate(232,364) rotate(-90)">67.4</text>
<text transform="translate(248,392) rotate(-90)">39.2</text>
<text transform="translate(232,458) rotate(-90)">29.4</text>
<text transform="translate(232,520) rotate(-90)">4</text>
<text transform="translate(235,535) rotate(-90)" font-size="9">-J4:17</text>
<text transform="translate(245,537) rotate(-90)" font-size="9">-J6:21.4</text>
<text transform="translate(544,555) rotate(-90)" font-size="9">-J4:4.8</text>
<text transform="translate(552,553) rotate(-90)" font-size="9">-J6:5.5</text>
<text transform="translate(579,350) rotate(-90)">70.2</text>
<text transform="translate(579,505) rotate(-90)">80.4</text>
<text transform="translate(566,381) rotate(-90)">42</text>
<text transform="translate(566,475) rotate(-90)">52.2</text>
<text transform="translate(552,431) rotate(-90)">74</text>
<text transform="translate(538,431) rotate(-90)">68</text>
<text transform="translate(523,422) rotate(-90)">20</text>
<text transform="translate(523,475) rotate(-90)">27</text>
</g>
<text x="128" y="250" font-size="10.5">Manual override</text>
<line class="th" x1="128" y1="255" x2="233" y2="255"/>
<line class="ln" x1="233" y1="255" x2="310" y2="355" marker-end="url(#a)"/>
<text x="128" y="266" class="s" textLength="106" lengthAdjust="spacingAndGlyphs">Non-locking type: Standard</text>
<text x="128" y="277" class="s" textLength="106" lengthAdjust="spacingAndGlyphs">Locking protruding type: <tspan class="b">-83</tspan></text>
<text x="128" y="585" class="d">Plug</text>
<line class="th" x1="128" y1="590" x2="275" y2="590"/>
<text x="128" y="601" class="d">For 2-, 3-port valve mounting</text>
<line class="ln" x1="275" y1="590" x2="300" y2="540" marker-end="url(#a)"/>
<text x="583" y="253" class="d">4- φ 4.2</text>
<line class="th" x1="583" y1="256" x2="660" y2="256"/>
<text x="583" y="267" class="d">Mounting hole</text>
<line class="ln" x1="583" y1="256" x2="492" y2="410" marker-end="url(#a)"/>

<g class="ln">
<line x1="721" y1="203" x2="721" y2="289"/><line x1="857" y1="203" x2="857" y2="358"/>
<line x1="774" y1="218" x2="774" y2="358"/><line x1="777" y1="218" x2="777" y2="358"/>
<line x1="790" y1="233" x2="790" y2="370"/><line x1="820" y1="248" x2="820" y2="490"/>
<line x1="696" y1="233" x2="696" y2="305"/><line x1="723" y1="233" x2="723" y2="289"/>
<line x1="721" y1="208" x2="857" y2="208" marker-start="url(#a)" marker-end="url(#a)"/>
<line x1="721" y1="223" x2="774" y2="223" marker-start="url(#a)" marker-end="url(#a)"/>
<line x1="777" y1="223" x2="857" y2="223" marker-start="url(#a)" marker-end="url(#a)"/>
<line x1="696" y1="238" x2="721" y2="238" marker-start="url(#a)" marker-end="url(#a)"/>
<line x1="723" y1="238" x2="771" y2="238" marker-start="url(#a)" marker-end="url(#a)"/>
<line x1="790" y1="238" x2="857" y2="238" marker-start="url(#a)" marker-end="url(#a)"/>
<line x1="820" y1="253" x2="857" y2="253" marker-start="url(#a)" marker-end="url(#a)"/>
</g>
<g class="d" text-anchor="middle">
<text x="789" y="205">68</text><text x="749" y="220">27</text><text x="819" y="220">40</text>
<text x="748" y="235">24</text><text x="822" y="235">34</text><text x="838" y="250">16.5</text>
</g>
<text x="718" y="221" class="d" text-anchor="end">Approximately</text>
<text x="716" y="233" class="d" text-anchor="end">300</text>
<path class="bd" d="M723,292 l2,-3 h46 l3,3 v53 h-50z"/>
<rect class="bd" x="721" y="345" width="53" height="187"/>
<path class="bd" d="M723,532 h50 v43 l-2,2 h-46 l-2,-2z"/>
<g class="th"><line x1="721" y1="390" x2="774" y2="390"/><line x1="721" y1="470" x2="774" y2="470"/><rect x="717" y="394" width="4" height="8"/><rect x="768" y="394" width="4" height="8"/><rect x="768" y="455" width="4" height="8"/><rect x="764" y="358" width="8" height="144"/></g>
<path class="ln" d="M695,302 h10 l3,-4 M710,302 l3,-4 M712,302 h8"/><rect x="718" y="299" width="4" height="6" fill="#222"/>
<path class="ln" d="M695,570 h10 l3,-4 M710,570 l3,-4 M712,570 h8"/><rect x="718" y="567" width="4" height="6" fill="#222"/>
<rect x="774" y="358" width="4" height="148" fill="#111"/>
<rect class="bd" x="778" y="358" width="79" height="148"/>
<g class="th" fill="#ddd"><rect x="795" y="506" width="14" height="5"/><rect x="831" y="506" width="14" height="5"/><rect x="792" y="511" width="20" height="4"/><rect x="828" y="511" width="20" height="4"/>
<rect x="798" y="515" width="8" height="16"/><rect x="834" y="515" width="8" height="16"/><rect x="797" y="531" width="10" height="5" rx="2"/><rect x="833" y="531" width="10" height="5" rx="2"/></g>
<circle class="pt" cx="820" cy="390" r="12"/><circle class="pt" cx="820" cy="431" r="12"/><circle class="pt" cx="820" cy="471" r="12"/>
<circle class="th" cx="820" cy="390" r="10"/><circle class="th" cx="820" cy="431" r="10"/><circle class="th" cx="820" cy="471" r="10"/>
<circle class="pt" cx="790" cy="370" r="4"/><circle class="pt" cx="790" cy="494" r="4"/>
<g class="ln">
<line x1="712" y1="431" x2="880" y2="431"/><line x1="783" y1="370" x2="915" y2="370"/><line x1="804" y1="390" x2="900" y2="390"/>
<line x1="804" y1="471" x2="900" y2="471"/><line x1="783" y1="494" x2="915" y2="494"/><line x1="858" y1="506" x2="915" y2="506"/>
<line x1="880" y1="431" x2="880" y2="506" marker-start="url(#a)" marker-end="url(#a)"/>
<line x1="896" y1="390" x2="896" y2="471" marker-start="url(#a)" marker-end="url(#a)"/>
<line x1="896" y1="471" x2="896" y2="506" marker-start="url(#a)" marker-end="url(#a)"/>
<line x1="912" y1="370" x2="912" y2="494" marker-start="url(#a)" marker-end="url(#a)"/>
<line x1="912" y1="494" x2="912" y2="506" marker-start="url(#a)"/><line x1="912" y1="506" x2="912" y2="525" marker-start="url(#a)"/>
</g>
<g class="d" text-anchor="middle">
<text transform="translate(877,467) rotate(-90)">37</text>
<text transform="translate(893,431) rotate(-90)">40</text>
<text transform="translate(893,489) rotate(-90)">17</text>
<text transform="translate(909,432) rotate(-90)">62</text>
<text transform="translate(909,516) rotate(-90)">6</text>
<text transform="translate(792,385) rotate(-90)">PR1</text>
<text transform="translate(792,482) rotate(-90)">PR2</text>
<text transform="translate(801,431) rotate(-90)">1(P)</text>
<text transform="translate(843,403) rotate(-90)">5(R1)</text>
<text transform="translate(843,458) rotate(-90)">3(R2)</text>
</g>
<text x="877" y="266" class="d">4-M5×0.8</text>
<line class="th" x1="874" y1="269" x2="934" y2="269"/>
<text x="875" y="279" class="s">(with 2 plugs)</text>
<line class="ln" x1="874" y1="269" x2="793" y2="367" marker-end="url(#a)"/>
<text x="875" y="322" class="d">6-Rc1/4</text>
<line class="th" x1="872" y1="325" x2="930" y2="325"/>
<text x="875" y="335" class="s">(with 3 plugs)</text>
<line class="ln" x1="872" y1="325" x2="828" y2="380" marker-end="url(#a)"/>

<rect class="bd" x="279" y="744" width="223" height="79"/>
<rect class="bd" x="297" y="688" width="35" height="56"/>
<rect class="bd" x="334" y="688" width="36" height="56"/>
<rect class="bd" x="371" y="688" width="36" height="56"/>
<rect class="bd" x="408" y="688" width="36" height="56"/>
<rect class="th" x="374" y="691" width="30" height="50" rx="3"/><rect class="th" x="411" y="691" width="30" height="50" rx="3"/>
<rect class="bd" x="445" y="734" width="36" height="10"/>
<g fill="#222"><rect x="308" y="684" width="10" height="5"/><rect x="346" y="684" width="10" height="5"/><rect x="383" y="684" width="10" height="5"/><rect x="420" y="684" width="10" height="5"/></g>
<g class="th"><path d="M310,684 v-14 M314,684 v-14 M348,684 v-14 M352,684 v-14 M385,684 v-14 M389,684 v-14 M422,684 v-14 M426,684 v-14"/>
<circle cx="303" cy="695" r="4"/><circle cx="326" cy="737" r="4"/><circle cx="303" cy="737" r="3"/><circle cx="322" cy="696" r="3"/>
<circle cx="340" cy="695" r="4"/><circle cx="364" cy="737" r="4"/><circle cx="340" cy="737" r="3"/><circle cx="359" cy="696" r="3"/>
<circle cx="401" cy="695" r="4"/><circle cx="377" cy="735" r="4"/><circle cx="438" cy="695" r="4"/><circle cx="414" cy="735" r="4"/></g>
<g class="pt"><circle cx="301" cy="772" r="11"/><circle cx="339" cy="772" r="11"/><circle cx="452" cy="772" r="11"/>
<circle cx="320" cy="806" r="11"/><circle cx="357" cy="806" r="11"/><circle cx="471" cy="806" r="11"/></g>
<g class="th"><circle cx="301" cy="772" r="6"/><circle cx="339" cy="772" r="6"/><circle cx="452" cy="772" r="6"/><circle cx="320" cy="806" r="6"/><circle cx="357" cy="806" r="6"/><circle cx="471" cy="806" r="6"/></g>
<g class="ln">
<line x1="236" y1="772" x2="470" y2="772" stroke-dasharray="60,3,3,3"/>
<line x1="252" y1="806" x2="488" y2="806" stroke-dasharray="60,3,3,3"/>
<line x1="232" y1="823" x2="279" y2="823"/>
<line x1="241" y1="772" x2="241" y2="823" marker-start="url(#a)" marker-end="url(#a)"/>
<line x1="256" y1="795" x2="256" y2="806" marker-end="url(#a)"/><line x1="256" y1="835" x2="256" y2="823" marker-end="url(#a)"/>
<line x1="302" y1="760" x2="302" y2="852"/><line x1="314" y1="740" x2="314" y2="852"/><line x1="319" y1="795" x2="319" y2="852"/>
<line x1="280" y1="848" x2="302" y2="848" marker-end="url(#a)"/><line x1="333" y1="848" x2="319" y2="848" marker-end="url(#a)"/>
<line x1="357" y1="795" x2="357" y2="825"/><line x1="471" y1="795" x2="471" y2="825"/><line x1="339" y1="760" x2="339" y2="785"/><line x1="452" y1="760" x2="452" y2="785"/>
</g>
<g class="d">
<text x="284" y="849">6</text><text x="330" y="846">2</text>
<text transform="translate(238,800) rotate(-90)" text-anchor="middle">25.5</text>
<text transform="translate(253,835) rotate(-90)" text-anchor="middle">7</text>
<text x="282" y="766" font-size="7">2(B)</text><text x="319" y="766" font-size="7">2(B)</text><text x="422" y="766">2 (B)</text>
<text x="327" y="799">4(A)</text><text x="362" y="799">4 (A)</text><text x="437" y="799">4 (A)</text>
</g>
<g font-size="10" class="b"><text x="308" y="879">stn.1</text><text x="345" y="879">stn.2</text><text x="378" y="879">stn.3</text><text x="412" y="879">stn.4</text><text x="447" y="879">stn.5</text></g>
<g class="d">
<text x="259" y="623">A180-4E1</text><text x="193" y="645">A180E1,A180E1-11</text>
<text x="436" y="623">A180-4E2</text><text x="458" y="646">A183-4E2</text>
<text x="499" y="677">Block-off plate</text><text x="499" y="690">(-<tspan class="b">BP</tspan>)</text>
<text x="127" y="696">2-Quick fittings (per each station)</text>
</g>
<text x="127" y="707" font-size="7">Plug B when mounting A180E1</text>
<text x="127" y="717" font-size="7">Plug A when mounting A180E1-11</text>
<g class="ln">
<path d="M257,626 h50 l40,56" marker-end="url(#a)"/><path d="M191,648 h80 l38,34" marker-end="url(#a)"/>
<path d="M482,626 h-45 l-50,56" marker-end="url(#a)"/><path d="M506,649 h-46 l-38,33" marker-end="url(#a)"/>
<path d="M532,680 h-35 l-30,52" marker-end="url(#a)"/><path d="M125,699 h147 l30,66" marker-end="url(#a)"/>
</g>

<text x="975" y="255" font-size="22" class="b">Unit dimensions</text>
<rect x="974" y="268" width="178" height="24" fill="#e6e6e6"/>
<g fill="#e6e6e6">
<rect x="974" y="315.7" width="178" height="23.7"/><rect x="974" y="363.1" width="178" height="23.7"/><rect x="974" y="410.5" width="178" height="23.7"/><rect x="974" y="457.9" width="178" height="23.7"/><rect x="974" y="505.3" width="178" height="23.7"/><rect x="974" y="552.7" width="178" height="23.7"/><rect x="974" y="600.1" width="178" height="23.7"/><rect x="974" y="647.5" width="178" height="23.7"/><rect x="974" y="694.9" width="178" height="23.7"/>
</g>
<g stroke="#222" stroke-width="1">
<line x1="974" y1="315.7" x2="1152" y2="315.7"/><line x1="974" y1="339.4" x2="1152" y2="339.4"/><line x1="974" y1="363.1" x2="1152" y2="363.1"/><line x1="974" y1="386.8" x2="1152" y2="386.8"/><line x1="974" y1="410.5" x2="1152" y2="410.5"/><line x1="974" y1="434.2" x2="1152" y2="434.2"/><line x1="974" y1="457.9" x2="1152" y2="457.9"/><line x1="974" y1="481.6" x2="1152" y2="481.6"/><line x1="974" y1="505.3" x2="1152" y2="505.3"/><line x1="974" y1="529" x2="1152" y2="529"/><line x1="974" y1="552.7" x2="1152" y2="552.7"/><line x1="974" y1="576.4" x2="1152" y2="576.4"/><line x1="974" y1="600.1" x2="1152" y2="600.1"/><line x1="974" y1="623.8" x2="1152" y2="623.8"/><line x1="974" y1="647.5" x2="1152" y2="647.5"/><line x1="974" y1="671.2" x2="1152" y2="671.2"/><line x1="974" y1="694.9" x2="1152" y2="694.9"/><line x1="974" y1="718.6" x2="1152" y2="718.6"/>
<line x1="1045" y1="268" x2="1045" y2="743"/><line x1="1098" y1="268" x2="1098" y2="743"/>
</g>
<g stroke="#222" stroke-width="2.5"><line x1="974" y1="268" x2="1152" y2="268"/><line x1="974" y1="292" x2="1152" y2="292"/><line x1="974" y1="743" x2="1152" y2="743"/></g>
<g font-size="14" text-anchor="middle"><text x="1010" y="285">Model</text><text x="1071" y="285">L</text><text x="1125" y="285">P</text></g>
<g font-size="13.5" class="b" text-anchor="end">
<text x="1037" y="308">180M2AJ</text><text x="1037" y="332">3AJ</text><text x="1037" y="356">4AJ</text><text x="1037" y="379">5AJ</text><text x="1037" y="403">6AJ</text><text x="1037" y="427">7AJ</text><text x="1037" y="450">8AJ</text><text x="1037" y="474">9AJ</text><text x="1037" y="498">10AJ</text><text x="1037" y="522">11AJ</text><text x="1037" y="545">12AJ</text><text x="1037" y="569">13AJ</text><text x="1037" y="593">14AJ</text><text x="1037" y="616">15AJ</text><text x="1037" y="640">16AJ</text><text x="1037" y="664">17AJ</text><text x="1037" y="687">18AJ</text><text x="1037" y="711">19AJ</text><text x="1037" y="735">20AJ</text>
</g>
<g font-size="14" text-anchor="middle">
<text x="1071" y="308">57</text><text x="1071" y="332">76</text><text x="1071" y="356">95</text><text x="1071" y="379">114</text><text x="1071" y="403">133</text><text x="1071" y="427">152</text><text x="1071" y="450">171</text><text x="1071" y="474">190</text><text x="1071" y="498">209</text><text x="1071" y="522">228</text><text x="1071" y="545">247</text><text x="1071" y="569">266</text><text x="1071" y="593">285</text><text x="1071" y="616">304</text><text x="1071" y="640">323</text><text x="1071" y="664">342</text><text x="1071" y="687">361</text><text x="1071" y="711">380</text><text x="1071" y="735">399</text>
<text x="1125" y="308">47</text><text x="1125" y="332">66</text><text x="1125" y="356">85</text><text x="1125" y="379">104</text><text x="1125" y="403">123</text><text x="1125" y="427">142</text><text x="1125" y="450">161</text><text x="1125" y="474">180</text><text x="1125" y="498">199</text><text x="1125" y="522">218</text><text x="1125" y="545">237</text><text x="1125" y="569">256</text><text x="1125" y="593">275</text><text x="1125" y="616">294</text><text x="1125" y="640">313</text><text x="1125" y="664">332</text><text x="1125" y="687">351</text><text x="1125" y="711">370</text><text x="1125" y="735">389</text>
</g>
</g>

<text x="89" y="1668" font-size="14.5">For options and made to order, see p.348.</text>
<text x="1152" y="1711" font-size="24" text-anchor="end">350</text>
</svg>
</body></html>
